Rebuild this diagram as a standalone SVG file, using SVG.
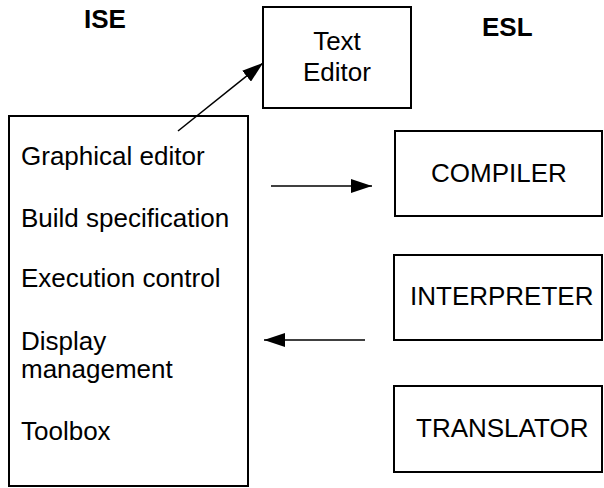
<svg xmlns="http://www.w3.org/2000/svg" width="604" height="488" viewBox="0 0 604 488">
  <style>
    .box { fill: #ffffff; stroke: #000000; stroke-width: 2; }
    .lbl { font-family: "Liberation Sans", Arial, sans-serif; font-size: 26px; fill: #000000; }
    .title { font-family: "Liberation Sans", Arial, sans-serif; font-size: 26px; font-weight: bold; fill: #000000; }
    .conn { stroke: #000000; stroke-width: 1.6; fill: none; }
  </style>
  <defs>
    <marker id="arrow" markerUnits="userSpaceOnUse" markerWidth="22" markerHeight="14" refX="21" refY="7" orient="auto">
      <path d="M0,0 L21,7 L0,14 Z" fill="#000000"/>
    </marker>
  </defs>

  <rect width="604" height="488" fill="#ffffff"/>

  <!-- column headings -->
  <text class="title" x="84" y="28">ISE</text>
  <text class="title" x="482" y="36">ESL</text>

  <!-- ISE tool list -->
  <g id="ise">
    <rect class="box" x="9" y="116" width="239" height="370"/>
    <text class="lbl" x="21" y="165">Graphical editor</text>
    <text class="lbl" x="21" y="227">Build specification</text>
    <text class="lbl" x="21" y="287">Execution control</text>
    <text class="lbl" x="21" y="350">Display</text>
    <text class="lbl" x="21" y="378">management</text>
    <text class="lbl" x="21" y="440">Toolbox</text>
  </g>

  <g id="text-editor">
    <rect class="box" x="263" y="7" width="148" height="101"/>
    <text class="lbl" x="337" y="50" text-anchor="middle">Text</text>
    <text class="lbl" x="337" y="81" text-anchor="middle">Editor</text>
  </g>

  <g id="compiler">
    <rect class="box" x="395" y="131" width="207" height="85"/>
    <text class="lbl" x="499" y="182" text-anchor="middle">COMPILER</text>
  </g>

  <g id="interpreter">
    <rect class="box" x="394" y="255" width="208" height="85"/>
    <text class="lbl" x="410" y="305">INTERPRETER</text>
  </g>

  <g id="translator">
    <rect class="box" x="394" y="386" width="208" height="86"/>
    <text class="lbl" x="416" y="437">TRANSLATOR</text>
  </g>

  <!-- connectors -->
  <g id="connectors">
    <line class="conn" x1="178" y1="131" x2="263" y2="63" marker-end="url(#arrow)"/>
    <line class="conn" x1="271" y1="186" x2="372" y2="186" marker-end="url(#arrow)"/>
    <line class="conn" x1="365" y1="340" x2="264" y2="340" marker-end="url(#arrow)"/>
  </g>
</svg>
